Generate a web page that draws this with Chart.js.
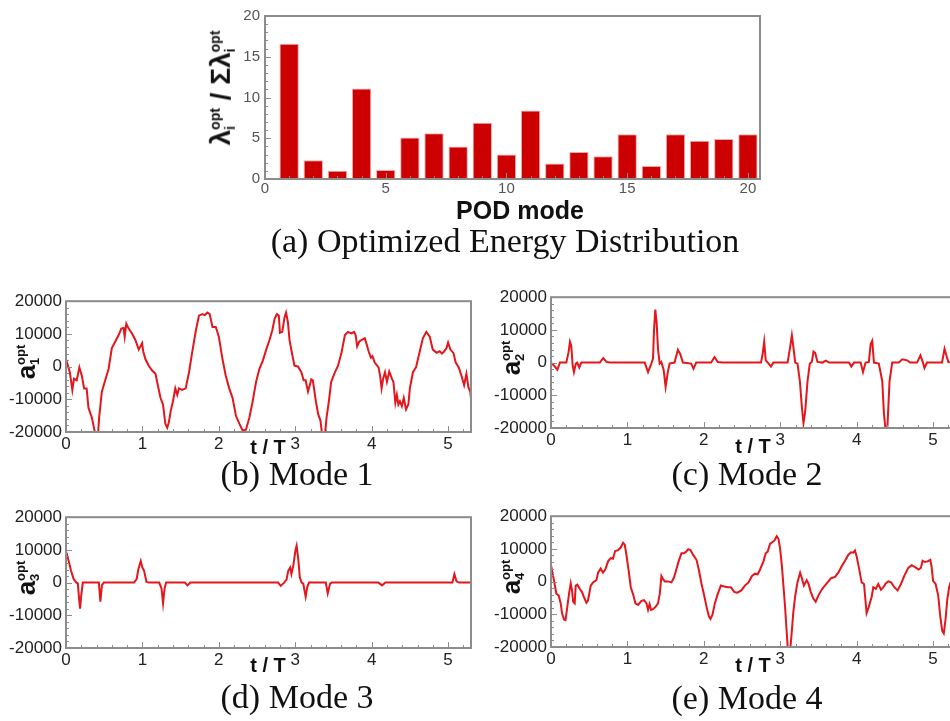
<!DOCTYPE html>
<html>
<head>
<meta charset="utf-8">
<script src="https://cdn.jsdelivr.net/npm/chart.js@4.4.0/dist/chart.umd.min.js"></script>
<style>
html, body { margin: 0; padding: 0; background: #fff; }
body { width: 950px; height: 721px; overflow: hidden; position: relative; }
.box { position: absolute; }
.cap { position: absolute; font-family: "Liberation Serif", "Times New Roman", serif; font-size: 34px; color: #111; white-space: nowrap; transform: translate(-50%, -50%); }
.xt { position: absolute; font-family: "Liberation Sans", Arial, sans-serif; font-weight: bold; font-size: 20px; color: #111; white-space: nowrap; transform: translate(-50%, -50%); }
.yt { position: absolute; font-family: "Liberation Sans", Arial, sans-serif; font-weight: bold; font-size: 26px; color: #111; white-space: nowrap; transform: translate(-50%, -50%) rotate(-90deg); }
.ss { display: inline-flex; flex-direction: column; font-size: 0.5em; line-height: 1.05; vertical-align: middle; text-align: left; }
</style>
</head>
<body>

<div class="box" style="left:198px; top:2px; width:575px; height:200px;"><canvas id="energyChart"></canvas></div>
<div class="box" style="left:0px; top:287px; width:480px; height:170px;"><canvas id="mode1Chart"></canvas></div>
<div class="box" style="left:485px; top:283px; width:480px; height:170px;"><canvas id="mode2Chart"></canvas></div>
<div class="box" style="left:0px; top:503px; width:480px; height:170px;"><canvas id="mode3Chart"></canvas></div>
<div class="box" style="left:485px; top:502px; width:480px; height:170px;"><canvas id="mode4Chart"></canvas></div>

<!-- axis titles and captions -->
<div class="yt" style="left:221px; top:88px; font-size:28px;">&lambda;<span class="ss"><span>opt</span><span>i</span></span> / &Sigma;&lambda;<span class="ss"><span>opt</span><span>i</span></span></div>
<div class="xt" style="left:520px; top:210px; font-size:25px;">POD mode</div>
<div class="cap" style="left:505px; top:241px;">(a) Optimized Energy Distribution</div>

<div class="yt" style="left:26px; top:362px;">a<span class="ss"><span>opt</span><span>1</span></span></div>
<div class="xt" style="left:268px; top:447px;">t / T</div>
<div class="cap" style="left:297px; top:474px;">(b) Mode 1</div>

<div class="yt" style="left:511px; top:358px;">a<span class="ss"><span>opt</span><span>2</span></span></div>
<div class="xt" style="left:753px; top:446px;">t / T</div>
<div class="cap" style="left:747px; top:474px;">(c) Mode 2</div>

<div class="yt" style="left:26px; top:578px;">a<span class="ss"><span>opt</span><span>3</span></span></div>
<div class="xt" style="left:268px; top:665px;">t / T</div>
<div class="cap" style="left:297px; top:697px;">(d) Mode 3</div>

<div class="yt" style="left:511px; top:577px;">a<span class="ss"><span>opt</span><span>4</span></span></div>
<div class="xt" style="left:753px; top:665px;">t / T</div>
<div class="cap" style="left:747px; top:698px;">(e) Mode 4</div>

<script>
// (a) energy share of each optimized POD mode, in percent
const podModes = [1, 2, 3, 4, 5, 6, 7, 8, 9, 10, 11, 12, 13, 14, 15, 16, 17, 18, 19, 20];
const energyShare = [16.6, 2.3, 1.0, 11.1, 1.1, 5.1, 5.6, 4.0, 6.9, 3.0, 8.4, 1.9, 3.3, 2.8, 5.5, 1.6, 5.5, 4.7, 4.9, 5.5];
const energyTicks = [0, 5, 10, 15, 20];

// (b)-(e) time coefficients, pairs of [t/T, a]
const mode1Points = [
    [0, 2300], [0.05, -1700], [0.083, -7150], [0.105, -3700], [0.14, -4200], [0.175, -240], [0.206, -2700],
    [0.237, -6660], [0.27, -6660], [0.294, -12600], [0.338, -15550], [0.373, -19500], [0.39, -21500], [0.417, -21500],
    [0.434, -15550], [0.469, -7650], [0.513, -4200], [0.557, -730], [0.60, 5690], [0.645, 7670], [0.689, 9640],
    [0.724, 11620], [0.754, 11800], [0.768, 9150], [0.789, 13100], [0.82, 11620], [0.864, 10140], [0.908, 8160],
    [0.952, 5200], [0.974, 6190], [0.996, 7170], [1.01, 4700], [1.04, 2230], [1.083, 260], [1.127, -1220],
    [1.171, -2200], [1.193, -4700], [1.237, -9620], [1.27, -11600], [1.30, -17500], [1.325, -18700], [1.346, -17000],
    [1.37, -13600], [1.40, -10600], [1.43, -6660], [1.456, -8650], [1.478, -6660], [1.52, -7150], [1.566, -6660],
    [1.61, -1720], [1.65, 4200], [1.70, 11100], [1.74, 15570], [1.785, 16060], [1.816, 15760], [1.85, 16550],
    [1.88, 16060], [1.917, 12100], [1.96, 12100], [2.0, 9150], [2.048, 2230], [2.09, -2700], [2.136, -6660],
    [2.18, -9620], [2.224, -15050], [2.27, -17500], [2.31, -19500], [2.355, -19300], [2.40, -15550], [2.443, -10600],
    [2.487, -4700], [2.53, -730], [2.575, 1740], [2.62, 5200], [2.66, 7900], [2.70, 11100], [2.73, 14580],
    [2.76, 16060], [2.785, 15570], [2.80, 10340], [2.83, 10620], [2.86, 15070], [2.88, 16550], [2.904, 13600],
    [2.925, 8160], [2.96, 3710], [2.99, 260], [3.035, 60], [3.08, -1720], [3.11, -4200], [3.136, -4200],
    [3.167, -7650], [3.19, -5700], [3.21, -3900], [3.23, -4200], [3.27, -10600], [3.30, -14560], [3.33, -16500],
    [3.355, -21500], [3.386, -21500], [3.41, -15550], [3.44, -10600], [3.47, -4700], [3.51, -2200], [3.56, 260],
    [3.605, 4200], [3.65, 9640], [3.69, 10620], [3.735, 10140], [3.77, 10620], [3.79, 9640], [3.81, 6190],
    [3.838, 7670], [3.87, 8160], [3.91, 8650], [3.93, 7170], [3.96, 4700], [3.99, 2730], [4.01, 3220],
    [4.04, 1240], [4.09, -240], [4.11, -2700], [4.13, -6660], [4.15, -3700], [4.175, -1720], [4.20, -4700],
    [4.23, -1520], [4.265, -3700], [4.285, -4700], [4.31, -11100], [4.33, -8650], [4.35, -11600], [4.37, -10600],
    [4.395, -12100], [4.42, -9620], [4.45, -13100], [4.48, -11600], [4.50, -6660], [4.54, -1720], [4.58, -240],
    [4.63, 4700], [4.67, 8650], [4.715, 10620], [4.76, 9150], [4.80, 5200], [4.85, 4200], [4.89, 4700],
    [4.92, 4000], [4.95, 4700], [4.98, 5700], [5.00, 7370], [5.03, 5200], [5.07, 4200], [5.10, 1240],
    [5.14, -240], [5.18, -3200], [5.21, -5700], [5.24, -2200], [5.265, -6200], [5.29, -7650], [5.30, -9800]
];

const mode2Points = [
    [0, 0], [0.05, -1200], [0.083, -2200], [0.117, 0], [0.2, 0], [0.23, 3200], [0.248, 6400], [0.265, 5200],
    [0.283, -800], [0.30, -2900], [0.326, -300], [0.343, 0], [0.37, -1500], [0.396, 0], [0.64, 0], [0.683, 1400],
    [0.726, 200], [0.77, 0], [1.226, 0], [1.27, -2900], [1.313, -300], [1.335, 1200], [1.348, 10000], [1.365, 16200],
    [1.383, 12000], [1.40, 4200], [1.422, -300], [1.443, 200], [1.474, -2200], [1.50, -7450], [1.53, -2700],
    [1.552, -300], [1.617, 0], [1.66, 3900], [1.69, 2700], [1.726, 0], [1.835, -300], [1.865, -1900], [1.90, 0],
    [2.096, 0], [2.14, 1700], [2.183, 200], [2.248, 0], [2.748, 0], [2.77, 2700], [2.79, 6400], [2.81, 700],
    [2.848, -300], [2.878, -1200], [2.91, 0], [3.096, 0], [3.126, 4200], [3.152, 8350], [3.17, 5100], [3.196, 0],
    [3.226, -300], [3.257, -5700], [3.283, -13600], [3.304, -18500], [3.326, -15100], [3.357, -5700], [3.387, -300],
    [3.413, 200], [3.435, 3400], [3.457, 3000], [3.487, 200], [3.552, 0], [3.596, 600], [3.64, 0], [3.9, 0],
    [3.93, -1200], [3.965, 0], [4.052, 0], [4.083, -2900], [4.117, 0], [4.16, 200], [4.183, 5700], [4.204, 6700],
    [4.226, 0], [4.29, -300], [4.335, -5700], [4.357, -15600], [4.38, -21000], [4.40, -21000], [4.43, -5700],
    [4.465, 0], [4.552, 0], [4.596, 1000], [4.66, 700], [4.70, 0], [4.79, 0], [4.835, 2200], [4.865, 200],
    [4.887, -1700], [4.92, 0], [5.117, 0], [5.15, 4200], [5.18, 1700], [5.2, 200], [5.3, 0]
];

const mode3Points = [
    [0, 9600], [0.035, 6600], [0.066, 3600], [0.10, 1100], [0.136, 0], [0.154, -200], [0.171, -4800], [0.184, -8000],
    [0.2, -3800], [0.22, 0], [0.43, 0], [0.45, -5800], [0.47, -800], [0.496, 0], [0.89, 0], [0.925, 1100],
    [0.947, 4100], [0.978, 6600], [1.0, 4600], [1.022, 3600], [1.053, 200], [1.088, 0], [1.22, 0], [1.25, -1800],
    [1.27, -6300], [1.29, -1800], [1.31, 0], [1.557, 0], [1.59, -850], [1.627, 0], [2.776, 0], [2.81, -1000],
    [2.855, 0], [2.886, 900], [2.908, 3600], [2.934, 4600], [2.95, 2600], [2.974, 5100], [3.004, 10000],
    [3.018, 11300], [3.04, 7100], [3.06, 1600], [3.083, 0], [3.105, -300], [3.136, -4300], [3.158, -1300],
    [3.18, 0], [3.40, 0], [3.425, -3300], [3.456, -300], [3.48, 0], [4.09, 0], [4.136, -850], [4.18, 0],
    [5.057, 0], [5.083, 2600], [5.11, 400], [5.145, 0], [5.3, 0]
];

const mode4Points = [
    [0, 5000], [0.04, 260], [0.07, -3700], [0.10, -4200], [0.127, -6660], [0.144, -9620], [0.17, -11600],
    [0.19, -11800], [0.214, -7650], [0.236, -3700], [0.258, -540], [0.275, -2700], [0.29, -6200], [0.31, -6660],
    [0.323, -1220], [0.345, -930], [0.376, -2200], [0.406, -3200], [0.43, -4700], [0.463, -6460], [0.485, -5700],
    [0.52, -1220], [0.55, -240], [0.594, 450], [0.616, 2730], [0.65, 4000], [0.68, 2730], [0.71, 3710],
    [0.747, 6190], [0.78, 7170], [0.81, 6970], [0.84, 9340], [0.878, 9640], [0.91, 10340], [0.943, 11900],
    [0.965, 11300], [0.987, 8160], [1.017, 3220], [1.044, -1720], [1.074, -3900], [1.105, -6660], [1.14, -7150],
    [1.183, -5900], [1.218, -5700], [1.25, -6660], [1.27, -8650], [1.29, -6860], [1.31, -8650], [1.336, -8450],
    [1.37, -7650], [1.40, -6660], [1.424, -3700], [1.445, 1740], [1.467, 750], [1.49, 60], [1.533, 60],
    [1.576, -240], [1.61, 1240], [1.64, 3710], [1.67, 6190], [1.707, 8650], [1.74, 8650], [1.77, 9150],
    [1.795, 9930], [1.825, 9640], [1.86, 8160], [1.904, 6670], [1.934, 3710], [1.97, -730], [2.004, -4200],
    [2.035, -7650], [2.066, -10600], [2.087, -11400], [2.113, -10100], [2.144, -6660], [2.18, -3900],
    [2.223, -1220], [2.266, -1520], [2.31, -1720], [2.354, -1720], [2.40, -3200], [2.44, -3400], [2.49, -2700],
    [2.537, -1220], [2.585, -240], [2.63, 1740], [2.67, 2430], [2.705, 2230], [2.736, 3710], [2.78, 6190],
    [2.81, 8650], [2.835, 9150], [2.867, 11620], [2.90, 12100], [2.924, 12600], [2.954, 13900], [2.976, 13100],
    [2.998, 10140], [3.02, 5200], [3.04, -730], [3.063, -7650], [3.085, -15550], [3.1, -21000], [3.13, -21000],
    [3.15, -15550], [3.17, -9620], [3.194, -4700], [3.225, -240], [3.26, 2730], [3.28, 1240], [3.31, -1220],
    [3.346, 450], [3.368, -540], [3.40, -3200], [3.433, -5200], [3.464, -6160], [3.50, -4200], [3.55, -2200],
    [3.608, -540], [3.665, 1040], [3.717, 1440], [3.76, 2730], [3.804, 4700], [3.848, 6380], [3.89, 8160],
    [3.926, 8950], [3.956, 8850], [3.978, 9540], [4.0, 7670], [4.03, 4200], [4.065, -240], [4.096, -730],
    [4.13, -9620], [4.16, -7650], [4.196, -4700], [4.218, -1720], [4.25, -2200], [4.283, -730], [4.318, -2500],
    [4.35, -1720], [4.38, -540], [4.414, 60], [4.45, -240], [4.493, -1720], [4.536, -2700], [4.58, -730],
    [4.623, 1740], [4.675, 4200], [4.72, 5000], [4.763, 4400], [4.81, 3710], [4.84, 4200], [4.863, 6380],
    [4.893, 5990], [4.928, 6190], [4.963, 6670], [4.98, 4700], [5.0, 260], [5.033, -730], [5.067, -4200],
    [5.094, -10600], [5.12, -15050], [5.14, -15800], [5.163, -11600], [5.185, -5700], [5.21, -1720], [5.23, -240]
];

const modeTicks = [-20000, -10000, 0, 10000, 20000];

const sansFont = "'Liberation Sans', Arial, sans-serif";
const lineRed = '#e3161c';
const barRed = '#cc0000';
const frameGray = '#8c8c8c';

// Tecplot-like frame: gray box plus small ticks pointing into the plot
const frameAndTicks = {
    id: 'frameAndTicks',
    afterDatasetsDraw(chart, args, opts) {
        const { ctx, chartArea: a, scales } = chart;
        const xs = scales.x, ys = scales.y;
        ctx.save();
        ctx.strokeStyle = frameGray;
        ctx.lineWidth = 1;

        const nx = Math.round((xs.max - xs.min) / opts.xMinor);
        for (let i = 0; i <= nx; i++) {
            const v = xs.min + i * opts.xMinor;
            if (v > xs.max + 1e-9) break;
            const r = v / opts.xMajor;
            const major = Math.abs(r - Math.round(r)) < 1e-6;
            const px = Math.round(xs.getPixelForValue(v)) + 0.5;
            ctx.beginPath();
            ctx.moveTo(px, a.bottom);
            ctx.lineTo(px, a.bottom - (major ? 6 : 3));
            ctx.stroke();
        }

        const ny = Math.round((ys.max - ys.min) / opts.yMinor);
        for (let i = 0; i <= ny; i++) {
            const v = ys.min + i * opts.yMinor;
            const r = v / opts.yMajor;
            const major = Math.abs(r - Math.round(r)) < 1e-6;
            const py = Math.round(ys.getPixelForValue(v)) + 0.5;
            ctx.beginPath();
            ctx.moveTo(a.left, py);
            ctx.lineTo(a.left + (major ? 6 : 3), py);
            ctx.stroke();
        }

        ctx.lineWidth = 2;
        ctx.strokeRect(a.left, a.top, a.width, a.height);
        ctx.restore();
    }
};
Chart.register(frameAndTicks);

function makeModeChart(canvasId, points) {
    const ctx = document.getElementById(canvasId);
    return new Chart(ctx, {
        type: 'line',
        data: {
            datasets: [{
                data: points.map(p => ({ x: p[0], y: p[1] })),
                borderColor: lineRed,
                borderWidth: 2,
                pointRadius: 0,
                tension: 0,
                clip: 1
            }]
        },
        options: {
            responsive: true,
            maintainAspectRatio: false,
            animation: false,
            layout: { padding: { top: 10, right: 9, left: 0, bottom: 0 } },
            plugins: {
                legend: { display: false },
                tooltip: { enabled: false },
                frameAndTicks: { xMinor: 0.2, xMajor: 1, yMinor: 2000, yMajor: 10000 }
            },
            scales: {
                x: {
                    type: 'linear',
                    min: 0,
                    max: 5.3,
                    grid: { display: false, drawTicks: false },
                    border: { display: false },
                    ticks: {
                        stepSize: 1, includeBounds: false, autoSkip: false, maxRotation: 0,
                        padding: 2, color: '#222', font: { family: sansFont, size: 17 }
                    },
                    afterFit(scale) { scale.height = 25; }
                },
                y: {
                    type: 'linear',
                    min: modeTicks[0],
                    max: modeTicks[modeTicks.length - 1],
                    grid: { display: false, drawTicks: false },
                    border: { display: false },
                    ticks: {
                        stepSize: modeTicks[1] - modeTicks[0], includeBounds: false, autoSkip: false,
                        padding: 4, color: '#222', font: { family: sansFont, size: 17 },
                        callback: v => String(v)
                    },
                    afterFit(scale) { scale.width = 66; }
                }
            }
        }
    });
}

function makeEnergyChart() {
    const ctx = document.getElementById('energyChart');
    return new Chart(ctx, {
        type: 'bar',
        data: {
            datasets: [{
                data: podModes.map((m, i) => ({ x: m, y: energyShare[i] })),
                backgroundColor: barRed,
                borderColor: '#f0a8a8',
                borderWidth: 1,
                barPercentage: 1,
                categoryPercentage: 0.8
            }]
        },
        options: {
            responsive: true,
            maintainAspectRatio: false,
            animation: false,
            layout: { padding: { top: 10, right: 13, left: 0, bottom: 0 } },
            plugins: {
                legend: { display: false },
                tooltip: { enabled: false },
                frameAndTicks: { xMinor: 1, xMajor: 5, yMinor: 1, yMajor: 5 }
            },
            scales: {
                x: {
                    type: 'linear',
                    offset: false,
                    min: 0,
                    max: 20.5,
                    grid: { display: false, drawTicks: false },
                    border: { display: false },
                    ticks: {
                        stepSize: 5, includeBounds: false, autoSkip: false, maxRotation: 0,
                        padding: 1, color: '#555', font: { family: sansFont, size: 15 }
                    },
                    afterFit(scale) { scale.height = 23; }
                },
                y: {
                    type: 'linear',
                    min: energyTicks[0],
                    max: energyTicks[energyTicks.length - 1],
                    grid: { display: false, drawTicks: false },
                    border: { display: false },
                    ticks: {
                        stepSize: energyTicks[1] - energyTicks[0], autoSkip: false,
                        padding: 5, color: '#555', font: { family: sansFont, size: 15 }
                    },
                    afterFit(scale) { scale.width = 67; }
                }
            }
        }
    });
}

makeEnergyChart();
makeModeChart('mode1Chart', mode1Points);
makeModeChart('mode2Chart', mode2Points);
makeModeChart('mode3Chart', mode3Points);
makeModeChart('mode4Chart', mode4Points);
</script>
</body>
</html>
